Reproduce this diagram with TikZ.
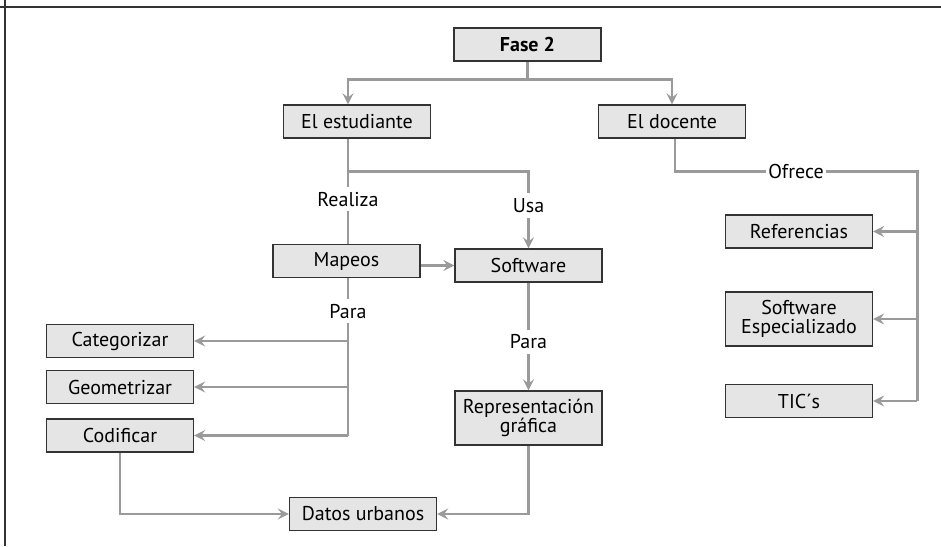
\documentclass[tikz,border=0pt]{standalone}
\usepackage{fontspec}
\setmainfont{PT Sans}
\usepackage{tikz}
\usetikzlibrary{shapes.geometric, arrows}
\definecolor{boxgray}{HTML}{E5E5E5}
\definecolor{edgegray}{HTML}{333333}
\definecolor{linkgray}{HTML}{9A9A9A}
\tikzstyle{block} = [rectangle, minimum width=73.5pt, minimum height=16.5pt, inner sep=1pt, align=center, draw=edgegray, line width=0.6pt, fill=boxgray, font=\fontsize{10}{9.5}\selectfont]
\tikzstyle{link} = [draw=linkgray, line width=1.4pt]
\tikzstyle{arrow} = [link, ->, >=stealth]
\tikzstyle{lbl} = [fill=white, inner xsep=1pt, inner ysep=2.5pt, font=\fontsize{10}{9.5}\selectfont]

\begin{document}
\begin{tikzpicture}[node distance=38.5pt]
        \useasboundingbox (0,0) rectangle (470.5pt,-273pt);
        \draw [edgegray, line width=0.6pt] (0,-3.5pt) -- (470.5pt,-3.5pt);
        \draw [edgegray, line width=0.6pt] (2.5pt,0) -- (2.5pt,-273pt);

        \node (fase) [block] at (263.75pt,-22.25pt) {\textbf{Fase 2}};
        \node (estud) [block, below of=fase, xshift=-85.25pt] {El estudiante};
        \node (docente) [block, below of=fase, xshift=72.25pt] {El docente};
        \node (mapeos) [block, below of=estud, xshift=-5.25pt, yshift=-31.25pt] {Mapeos};
        \node (software) [block, right of=mapeos, xshift=52.5pt, yshift=-2.25pt] {Software};
        \node (categ) [block, below of=mapeos, xshift=-113.25pt, yshift=-1.5pt] {Categorizar};
        \node (geom) [block, below of=categ, yshift=15.5pt] {Geometrizar};
        \node (codif) [block, below of=geom, yshift=14.25pt] {Codificar};
        \node (repr) [block, below of=software, yshift=-37.75pt, minimum height=27pt] {Representación\\gráfica};
        \node (datos) [block, below of=repr, xshift=-82.75pt, yshift=-9.5pt] {Datos urbanos};
        \node (refer) [block, below of=docente, xshift=63.5pt, yshift=-16.5pt] {Referencias};
        \node (softesp) [block, below of=refer, yshift=-5.25pt, minimum height=27pt] {Software\\Especializado};
        \node (tics) [block, below of=softesp, yshift=-2.5pt] {TIC´s};

        \coordinate (split) at ([yshift=-9pt]fase.south);
        \coordinate (estjoin) at ([xshift=-4.5pt,yshift=-16.5pt]estud.south);
        \coordinate (ofjoin) at ([xshift=1.5pt,yshift=-16.5pt]docente.south);
        \coordinate (ofright) at ([xshift=22pt]refer.east |- ofjoin);
        \coordinate (paratop) at ([xshift=0.75pt]mapeos.south);

        \draw [link] (fase.south) -- (split);
        \draw [arrow] (split) -| ([xshift=-4.5pt]estud.north);
        \draw [arrow] (split) -| (docente.north);
        \draw [link] ([xshift=-4.5pt]estud.south) -- (estjoin) -- node[lbl, pos=0.38] {Realiza} (estjoin |- mapeos.north);
        \draw [arrow] (estjoin) -| node[lbl, pos=0.72] {Usa} (software.north);
        \draw [arrow] (mapeos.east |- software) -- (software.west);
        \draw [link] (paratop) -- node[lbl, pos=0.21] {Para} (paratop |- codif);
        \draw [arrow] (paratop |- categ) -- (categ.east);
        \draw [arrow] (paratop |- geom) -- (geom.east);
        \draw [arrow] (paratop |- codif) -- (codif.east);
        \draw [arrow] (software.south) -- node[lbl, pos=0.55] {Para} (repr.north);
        \draw [arrow] (codif.south) |- (datos.west);
        \draw [arrow] (repr.south) |- (datos.east);
        \draw [link] ([xshift=1.5pt]docente.south) -- (ofjoin) -- node[lbl, inner ysep=1pt] {Ofrece} (ofright) -- (ofright |- tics);
        \draw [arrow] (ofright |- refer) -- (refer.east);
        \draw [arrow] (ofright |- softesp) -- (softesp.east);
        \draw [arrow] (ofright |- tics) -- (tics.east);
    \end{tikzpicture}
\end{document}
